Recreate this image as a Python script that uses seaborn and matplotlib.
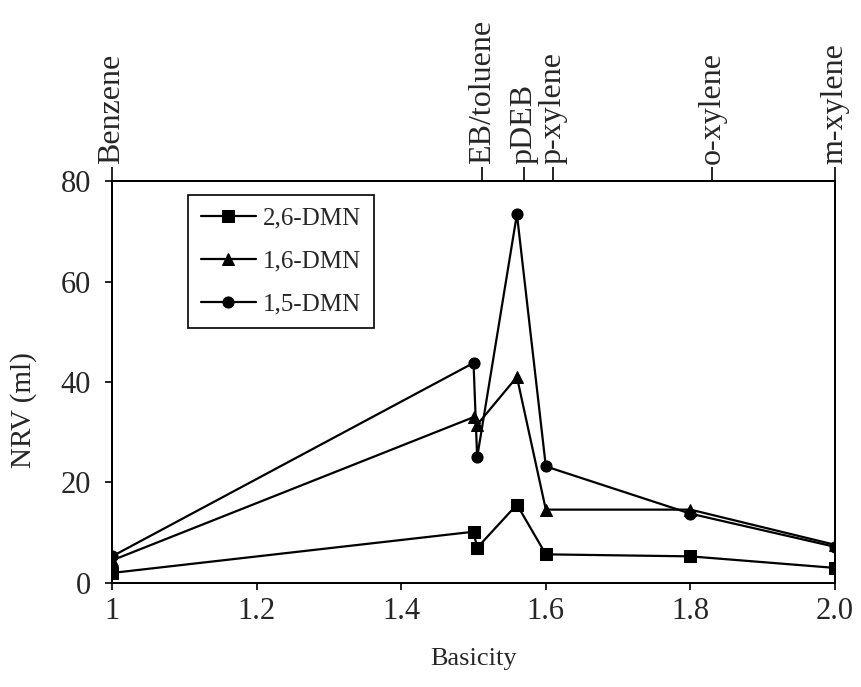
import pandas as pd
import matplotlib
matplotlib.use("Agg")
import matplotlib.pyplot as plt
import seaborn as sns

# data
basicity = [1.0, 1.5, 1.505, 1.56, 1.6, 1.8, 2.0]
dmn26 = [2.0, 10.2, 7.0, 15.6, 5.7, 5.3, 3.0]
dmn16 = [4.5, 33.0, 31.5, 41.0, 14.6, 14.6, 7.6]
dmn15 = [5.3, 43.8, 25.0, 73.4, 23.2, 13.8, 7.2]
series_names = ["2,6-DMN", "1,6-DMN", "1,5-DMN"]

solvents = ["Benzene", "EB/toluene", "pDEB", "p-xylene", "o-xylene", "m-xylene"]
solvent_pos = [1.0, 1.512, 1.57, 1.61, 1.83, 2.0]

# long format table for seaborn
rows = []
for name, vals in zip(series_names, [dmn26, dmn16, dmn15]):
    for b, v in zip(basicity, vals):
        rows.append({"Basicity": b, "NRV": v, "solute": name})
df = pd.DataFrame(rows)

sns.set_style("ticks")
plt.rcParams["font.family"] = ["Liberation Serif", "DejaVu Serif"]

fig = plt.figure(figsize=(8.62, 6.87), dpi=100)
ax = fig.add_axes([0.130, 0.1514, 0.8387, 0.5851])

sns.lineplot(data=df, x="Basicity", y="NRV", hue="solute", style="solute",
             palette=["black"] * 3, markers={"2,6-DMN": "s", "1,6-DMN": "^", "1,5-DMN": "o"},
             dashes=False, sort=False, estimator=None, linewidth=1.6,
             markersize=8, markeredgecolor="black", ax=ax)

ax.set_xlim(1.0, 2.0)
ax.set_ylim(0, 80)
ax.set_xticks([1.0, 1.2, 1.4, 1.6, 1.8, 2.0])
ax.set_xticklabels(["1", "1.2", "1.4", "1.6", "1.8", "2.0"])
ax.set_yticks([0, 20, 40, 60, 80])
ax.tick_params(axis="both", labelsize=22, direction="out", width=1.2, color="black")
ax.tick_params(axis="x", length=5, pad=5)
ax.tick_params(axis="y", length=5, pad=10)
ax.set_xlabel("Basicity", fontsize=19, labelpad=16)
ax.set_ylabel("NRV (ml)", fontsize=21)
ax.yaxis.set_label_coords(-0.104, 0.43)
for sp in ax.spines.values():
    sp.set_visible(True)
    sp.set_linewidth(1.4)
    sp.set_color("black")

# top axis with solvent names
top = ax.twiny()
top.set_xlim(ax.get_xlim())
top.set_xticks(solvent_pos)
top.set_xticklabels(solvents, rotation=90, fontsize=23)
top.tick_params(axis="x", length=10, width=1.2, direction="out", pad=2, color="black")
for sp in top.spines.values():
    sp.set_linewidth(1.4)
    sp.set_color("black")

leg = ax.legend(loc="upper left", bbox_to_anchor=(0.088, 0.997), fontsize=18,
                frameon=True, fancybox=False, edgecolor="black", framealpha=1,
                handlelength=2.2, borderpad=0.5, labelspacing=0.82, handletextpad=0.3)
leg.get_frame().set_linewidth(1.2)

fig.savefig("out.png", dpi=100)
